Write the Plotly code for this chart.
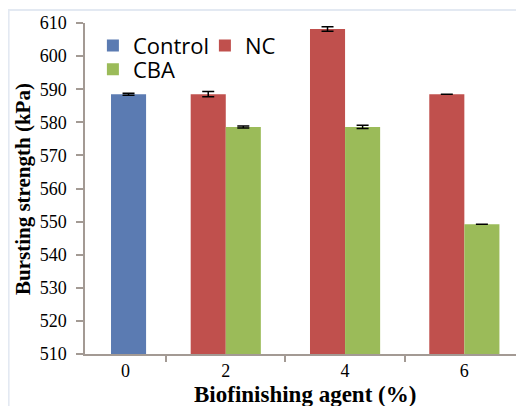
import plotly.graph_objects as go

categories = ["0", "2", "4", "6"]
control_x = [0]
control_vals = [588.5]
control_err = [0.3]
treat_x = [2, 4, 6]
nc_vals = [588.5, 608.2, 588.5]
nc_err = [0.8, 0.7, 0]
cba_vals = [578.6, 578.6, 549.2]
cba_err = [0.3, 0.5, 0]

W = 0.588
err_style = dict(type="data", color="black", thickness=1.5, width=6)
axis_col = "#A39A94"

fig = go.Figure()
fig.add_trace(go.Bar(x=control_x, y=control_vals, name="Control", width=W, offset=0.076,
                     marker=dict(color="#5B7BB2", line=dict(width=0)),
                     error_y=dict(array=control_err, **err_style), legend="legend"))
fig.add_trace(go.Bar(x=treat_x, y=nc_vals, name="NC", width=W, offset=-W,
                     marker=dict(color="#C0504D", line=dict(width=0)),
                     error_y=dict(array=nc_err, **err_style), legend="legend"))
fig.add_trace(go.Bar(x=treat_x, y=cba_vals, name="CBA", width=W, offset=0,
                     marker=dict(color="#9BBB59", line=dict(width=0)),
                     error_y=dict(array=cba_err, **err_style), legend="legend2"))

serif = "Liberation Serif"
legfont = dict(family="Open Sans", size=22, color="black")
fig.update_layout(
    width=516, height=398,
    margin=dict(l=77, r=0, t=15, b=52),
    paper_bgcolor="white", plot_bgcolor="white",
    barmode="overlay",
    showlegend=True,
    legend=dict(orientation="h", x=0.018, y=0.995, xanchor="left", yanchor="top",
                font=legfont, bgcolor="rgba(0,0,0,0)", entrywidth=67, itemwidth=30),
    legend2=dict(orientation="h", x=0.018, y=0.923, xanchor="left", yanchor="top",
                 font=legfont, bgcolor="rgba(0,0,0,0)", itemwidth=30),
    xaxis=dict(range=[-0.36, 7.0], tickvals=[0.32, 2, 4, 6], ticktext=categories,
               ticks="", showgrid=False, zeroline=False,
               showline=True, linecolor=axis_col, linewidth=1.5,
               tickfont=dict(family=serif, size=18, color="black"),
               minor=dict(tickvals=[1, 3, 5], ticks="outside", ticklen=6,
                          tickcolor=axis_col, tickwidth=1.5, showgrid=False)),
    yaxis=dict(range=[510, 610], dtick=10, tick0=510, ticks="outside", ticklen=7,
               tickcolor=axis_col, tickwidth=1.5, ticklabelstandoff=6,
               showgrid=False, zeroline=False,
               showline=True, linecolor=axis_col, linewidth=1.5,
               tickfont=dict(family=serif, size=18, color="black")),
)
fig.add_annotation(text="<b>Biofinishing agent (%)</b>", xref="paper", yref="paper",
                   x=0.5, y=-0.08, xanchor="center", yanchor="top", showarrow=False,
                   font=dict(family=serif, size=23, color="black"))
fig.add_annotation(text="<b>Bursting strength (kPa)</b>", xref="paper", yref="paper",
                   x=-0.140, y=0.497, xanchor="center", yanchor="middle", textangle=-90,
                   showarrow=False, font=dict(family=serif, size=21, color="black"))
fig.add_shape(type="rect", xref="paper", yref="paper", x0=-0.174, x1=1.02, y0=-0.2, y1=1.039,
              line=dict(color="#E3E9F2", width=2), layer="below")
fig.write_html("out.html")
